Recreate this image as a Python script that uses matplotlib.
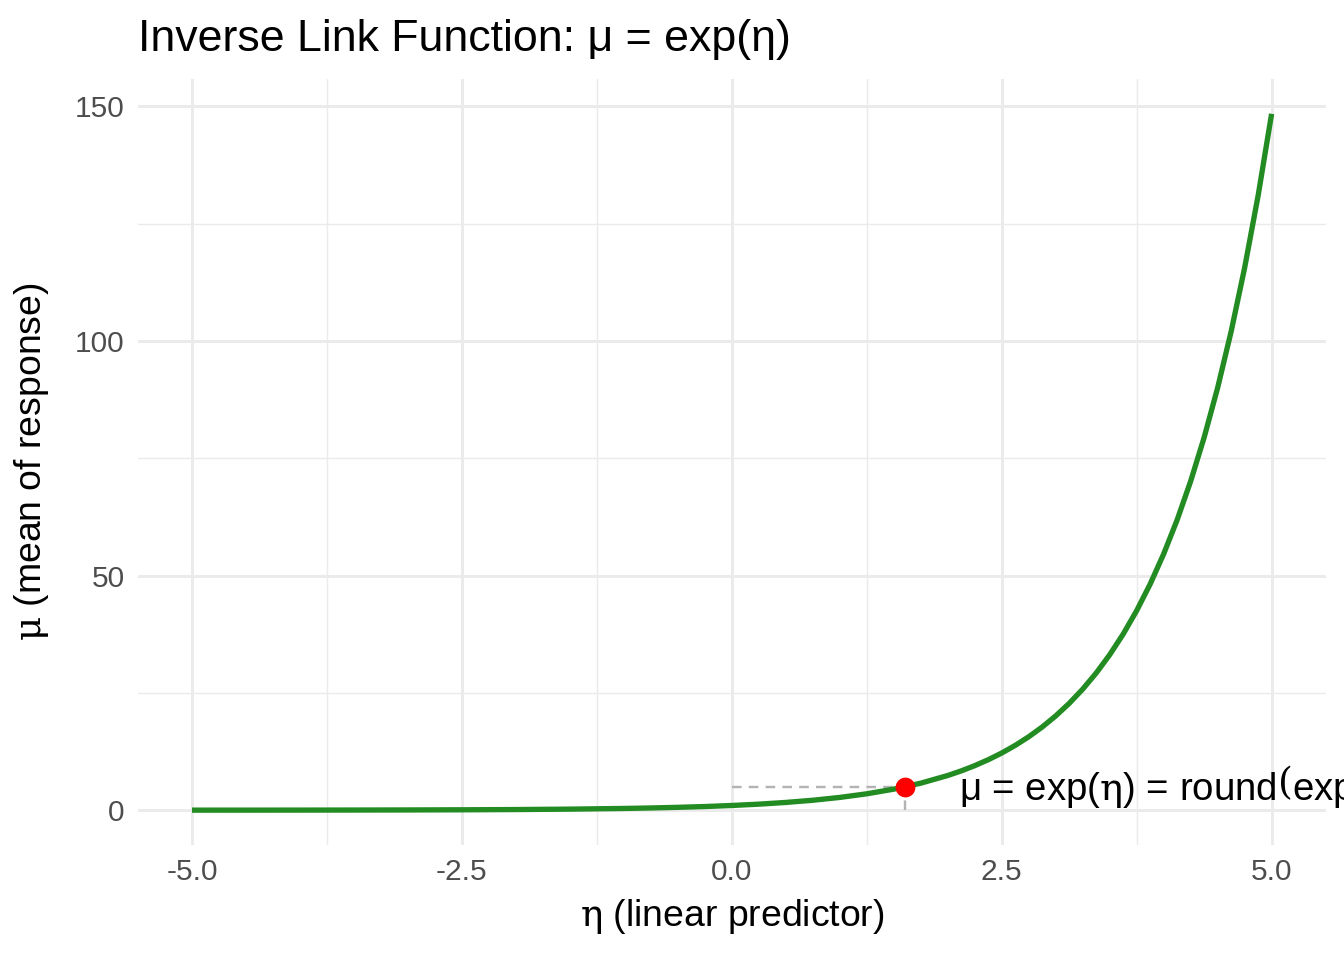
import matplotlib
matplotlib.use("Agg")
import matplotlib.pyplot as plt
from matplotlib.ticker import MultipleLocator

# Curve readings (eta, mu)
eta = [-5.0, -4.5, -4.0, -3.5, -3.0, -2.5, -2.0, -1.5, -1.0, -0.75, -0.5, -0.25, 0.0,
       0.25, 0.5, 0.75, 1.0, 1.25, 1.5, 1.75,
       2.0, 2.125, 2.25, 2.375, 2.5, 2.625, 2.75, 2.875, 3.0, 3.125, 3.25, 3.375, 3.5,
       3.625, 3.75, 3.875, 4.0, 4.125, 4.25, 4.375, 4.5, 4.625, 4.75, 4.875, 5.0]
mu = [0.007, 0.011, 0.018, 0.030, 0.050, 0.082, 0.135, 0.223, 0.368, 0.472, 0.607, 0.779, 1.0,
      1.284, 1.649, 2.117, 2.718, 3.490, 4.482, 5.755,
      7.389, 8.373, 9.488, 10.751, 12.182, 13.804, 15.643, 17.725, 20.086, 22.760, 25.790, 29.224, 33.115,
      37.525, 42.521, 48.183, 54.598, 61.868, 70.105, 79.440, 90.017, 102.003, 115.584, 130.975, 148.413]

# Highlighted point
eta_pt = 1.6
mu_pt = 4.95
label_text = r"μ = exp($\eta$) = round$\left(\right.$exp(1.6), 2) = 4.95"

x_ticks = [-5.0, -2.5, 0.0, 2.5, 5.0]
x_tick_labels = ["-5.0", "-2.5", "0.0", "2.5", "5.0"]
y_ticks = [0, 50, 100, 150]

plt.rcParams['font.family'] = ['Liberation Sans', 'DejaVu Sans']
plt.rcParams['mathtext.fontset'] = 'custom'
plt.rcParams['mathtext.rm'] = 'DejaVu Serif'
plt.rcParams['mathtext.it'] = 'DejaVu Serif'
plt.rcParams['mathtext.sf'] = 'DejaVu Serif'
plt.rcParams['mathtext.bf'] = 'DejaVu Serif'

fig = plt.figure(figsize=(7, 5), dpi=192)
ax = fig.add_axes([138/1344, 115/960, (1325.6-138)/1344, (845-79)/960])

ax.plot(eta, mu, color="#228B22", lw=2.0, solid_capstyle="butt", solid_joinstyle="round", zorder=3)
ax.plot([0, eta_pt], [mu_pt, mu_pt], color="#B3B3B3", lw=0.9, ls=(0, (4, 3)), zorder=2)
ax.plot([eta_pt, eta_pt], [0, mu_pt], color="#B3B3B3", lw=0.9, ls=(0, (4, 3)), zorder=2)
ax.scatter([eta_pt], [mu_pt], s=55, color="#FF0000", zorder=4, linewidths=0)
ax.text(eta_pt + 0.5, mu_pt, label_text, ha="left", va="center", fontsize=14.4, color="black",
        clip_on=False)

span = max(mu) - 0
ax.set_xlim(-5.5, 5.5)
ax.set_ylim(-0.05*span, max(mu) + 0.05*span)

ax.set_xticks(x_ticks)
ax.set_xticklabels(x_tick_labels)
ax.set_yticks(y_ticks)
ax.xaxis.set_minor_locator(MultipleLocator(1.25))
ax.yaxis.set_minor_locator(MultipleLocator(25))
ax.grid(which="major", color="#EBEBEB", lw=1.1)
ax.grid(which="minor", color="#EBEBEB", lw=0.55)
ax.set_axisbelow(True)
for s in ax.spines.values():
    s.set_visible(False)
ax.tick_params(which="both", length=0)
ax.tick_params(axis="both", labelsize=11.2, colors="#4D4D4D", pad=5)

ax.set_xlabel(r"$\eta$ (linear predictor)", fontsize=14, labelpad=4)
ax.set_ylabel(r"$\mu$ (mean of response)", fontsize=14, labelpad=9)
fig.text(138/1344, 1 - 40/960, "Inverse Link Function: μ = exp(η)", fontsize=16.8,
         ha="left", va="center")

fig.savefig("out.png", dpi=192)
